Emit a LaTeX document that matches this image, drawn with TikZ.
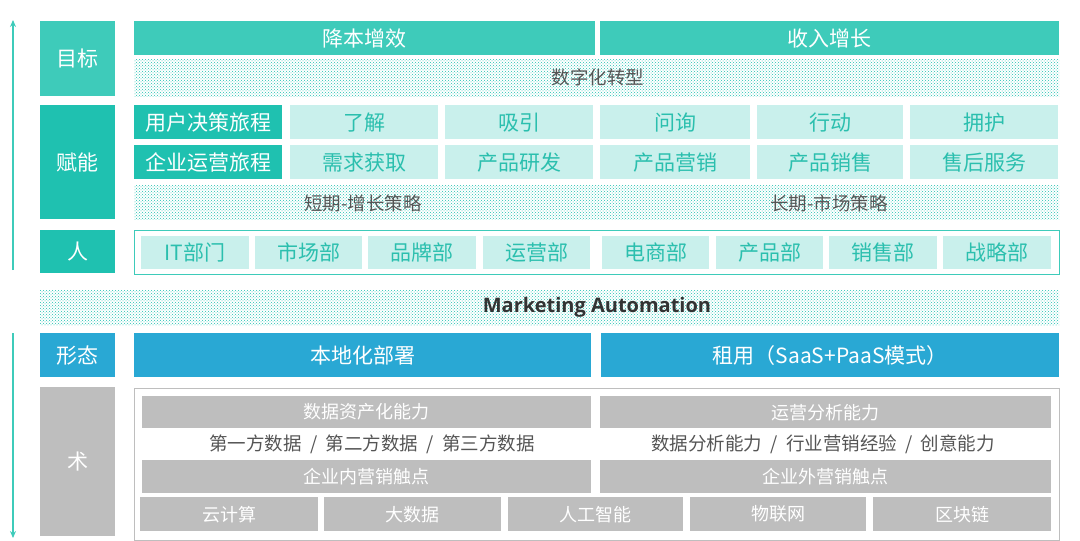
\documentclass[tikz,border=0pt]{standalone}
\usepackage{fontspec}
\setmainfont{Noto Sans CJK SC}
\newfontfamily\latinbold{Open Sans}
\usetikzlibrary{arrows.meta,patterns}
\definecolor{tealmid}{HTML}{3ECBBA}
\definecolor{tealdark}{HTML}{1FC1B0}
\definecolor{teallight}{HTML}{C9F0EC}
\definecolor{tealtext}{HTML}{2BBFAE}
\definecolor{bluebar}{HTML}{29A8D4}
\definecolor{graybox}{HTML}{BEBEBE}
\definecolor{graytext}{HTML}{555555}

\tikzset{
  box/.style={inner sep=0pt, anchor=north west, font=\fontsize{21}{24}\selectfont},
  goalbox/.style={box, fill=tealmid, text=white},
  darkbox/.style={box, fill=tealdark, text=white},
  lightbox/.style={box, fill=teallight, text=tealtext},
  bluebox/.style={box, fill=bluebar, text=white},
  greybox/.style={box, fill=graybox, text=white, font=\fontsize{18}{21}\selectfont},
  dotband/.style={pattern=crosshatch dots, pattern color=tealdark},
  frame/.style={draw=graybox, line width=0.8pt},
  bandtext/.style={text=graytext, font=\fontsize{18.5}{22}\selectfont}
}
% box from (x,y) with width w and height h, in pixels
\newcommand{\blk}[7]{\node[#6, minimum width=#4, minimum height=#5] (#1) at (#2,#3) {#7};}

\begin{document}
\begin{tikzpicture}[x=1pt,y=-1pt]
  \useasboundingbox (0,0) rectangle (1080,541);

  % axis arrows
  \coordinate (upS) at (13,270);
  \coordinate (upE) at (13,20);
  \coordinate (dnS) at (13,333);
  \coordinate (dnE) at (13,538);
  \draw[tealmid, line width=1.2pt, -{Stealth[length=7pt,width=6pt]}] (upS) -- (upE);
  \draw[tealmid, line width=1.2pt, -{Stealth[length=7pt,width=6pt]}] (dnS) -- (dnE);

  % left labels
  \blk{lgoal}{40}{21}{75}{75}{goalbox}{目标}
  \blk{lpower}{40}{105}{75}{114}{darkbox}{赋能}
  \blk{lpeople}{40}{230}{75}{43}{darkbox}{人}
  \blk{lform}{40}{333}{75}{44}{bluebox}{形态}
  \blk{lskill}{40}{387}{75}{149}{greybox, font=\fontsize{21}{24}\selectfont}{术}

  % goals
  \blk{gcost}{134}{21}{461}{34}{goalbox}{降本增效}
  \blk{grev}{600}{21}{459}{34}{goalbox}{收入增长}
  \fill[dotband] (134,59) rectangle (1059,96);
  \node[bandtext] (digital) at (598,77) {数字化转型};

  % journeys
  \blk{juser}{134}{105}{148}{34}{darkbox}{用户决策旅程}
  \blk{jent}{134}{145}{148}{34}{darkbox}{企业运营旅程}
  \foreach \x/\w/\a/\b in {290/148/了解/需求获取, 445/148/吸引/产品研发, 600/150/问询/产品营销,
                           757/146/行动/产品销售, 910/148/拥护/售后服务} {
    \blk{ja\x}{\x}{105}{\w}{34}{lightbox}{\a}
    \blk{jb\x}{\x}{145}{\w}{34}{lightbox}{\b}
  }
  \fill[dotband] (134,185) rectangle (1059,219);
  \node[bandtext] (short) at (363,203) {短期-增长策略};
  \node[bandtext] (long) at (829,203) {长期-市场策略};

  % departments
  \draw[frame, draw=tealmid] (134,230) rectangle (1059,274);
  \foreach \x/\w/\t in {141/108/IT部门, 255/107/市场部, 368/108/品牌部, 483/107/运营部,
                        602/107/电商部, 716/107/产品部, 829/108/销售部, 943/108/战略部} {
    \blk{d\x}{\x}{236}{\w}{33}{lightbox}{\t}
  }

  % marketing automation band
  \fill[dotband] (40,290) rectangle (1059,325);
  \node[font=\latinbold\bfseries\fontsize{20}{23}\selectfont, text=black!80] (ma) at (597,307) {Marketing Automation};

  % forms
  \blk{flocal}{134}{333}{457}{44}{bluebox}{本地化部署}
  \blk{frent}{601}{333}{458}{44}{bluebox}{租用（SaaS+PaaS模式）}

  % skills
  \draw[frame] (134,388) rectangle (1059,540);
  \blk{sdata}{142}{396}{449}{32}{greybox}{数据资产化能力}
  \blk{sops}{600}{396}{451}{32}{greybox}{运营分析能力}
  \node[bandtext] (sparty) at (372,444) {第一方数据 ~/~ 第二方数据 ~/~ 第三方数据};
  \node[bandtext] (sana) at (823,444) {数据分析能力 ~/~ 行业营销经验 ~/~ 创意能力};
  \blk{sin}{142}{460}{449}{33}{greybox}{企业内营销触点}
  \blk{sout}{600}{460}{451}{33}{greybox}{企业外营销触点}
  \foreach \x/\w/\t in {140/178/云计算, 324/177/大数据, 508/175/人工智能, 690/176/物联网, 873/178/区块链} {
    \blk{t\x}{\x}{497}{\w}{34}{greybox}{\t}
  }
\end{tikzpicture}
\end{document}
